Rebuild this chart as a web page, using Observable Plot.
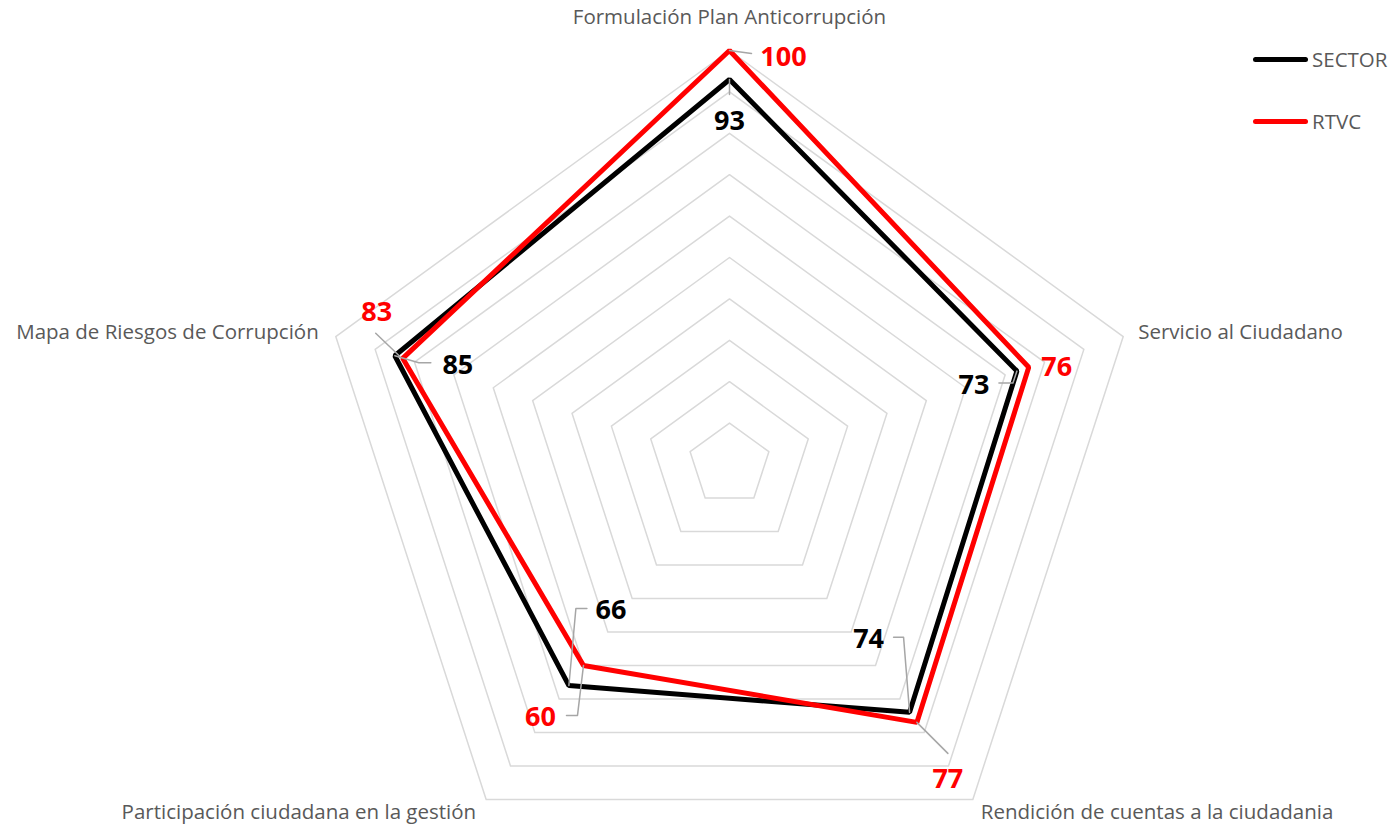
<!DOCTYPE html>
<html>
<head>
<meta charset="utf-8">
<script src="https://cdn.jsdelivr.net/npm/d3@7"></script>
<script src="https://cdn.jsdelivr.net/npm/@observablehq/plot@0.6"></script>
<style>
  html, body { margin: 0; padding: 0; background: #fff; }
  #wrap { position: relative; width: 1393px; height: 826px; }
  #legend { position: absolute; left: 1253px; top: 44px; font-family: "Open Sans", sans-serif; font-size: 20.5px; color: #595959; }
  .item { display: flex; align-items: center; height: 30px; margin-bottom: 32px; }
  .sw { width: 55px; height: 5px; border-radius: 3px; margin-right: 4px; }
</style>
</head>
<body>
<div id="wrap"><div id="legend"></div></div>
<script>
// ---- data ----
const categories = [
  "Formulación Plan Anticorrupción",
  "Servicio al Ciudadano",
  "Rendición de cuentas a la ciudadania",
  "Participación ciudadana en la gestión",
  "Mapa de Riesgos de Corrupción"
];
const seriesNames = ["SECTOR", "RTVC"];
const sectorValues = [93, 73, 74, 66, 85];
const rtvcValues = [100, 76, 77, 60, 83];
const ringLevels = [10, 20, 30, 40, 50, 60, 70, 80, 90, 100];

// ---- layout / style (not data) ----
const W = 1393, H = 826;
const CX = 729, CY = 464, PX_PER_UNIT = 4.14;
const colors = {SECTOR: "#000000", RTVC: "#ff0000"};
// data label offsets in pixels from the point, and leader polylines
const labelLayout = {
  SECTOR: [
    {off: [0, 42], leader: [[0, 0], [0, 15]]},
    {off: [-43, 14], leader: [[-18, 12], [-4, 12], [0, 0]]},
    {off: [-41, -73], leader: [[-16, -75], [-6, -75], [0, 0]]},
    {off: [42, -75], leader: [[18, -77], [7, -77], [0, 0]]},
    {off: [63, 10], leader: [[0, 0], [24, 7], [36, 7]]}
  ],
  RTVC: [
    {off: [54, 7], leader: [[0, 0], [22, 3]]},
    {off: [28, 0], leader: null},
    {off: [31, 57], leader: [[0, 0], [31, 31]]},
    {off: [-43, 52], leader: [[-17, 50], [-6, 50], [0, 0]]},
    {off: [-26, -46], leader: [[-3, -2], [-27, -25]]}
  ]
};
const axisLabelLayout = [
  {off: [0, -33], anchor: "middle"},
  {off: [15, -4], anchor: "start"},
  {off: [8, 13], anchor: "start"},
  {off: [-10, 13], anchor: "end"},
  {off: [-17, -4], anchor: "end"}
];

// ---- geometry helpers ----
const n = categories.length;
const ang = i => (-90 + 360 / n * i) * Math.PI / 180;
const px = (v, i) => v * Math.cos(ang(i));
const py = (v, i) => -v * Math.sin(ang(i));
const offX = d => d / PX_PER_UNIT;
const offY = d => -d / PX_PER_UNIT;

const rings = ringLevels.flatMap(l => categories.map((c, i) => ({level: l, x: px(l, i), y: py(l, i)})));

const seriesVals = {SECTOR: sectorValues, RTVC: rtvcValues};
const seriesPts = seriesNames.flatMap(s => seriesVals[s].map((v, i) => ({series: s, v, i, x: px(v, i), y: py(v, i)})));

const labels = seriesPts.map(d => {
  const L = labelLayout[d.series][d.i];
  return {...d, lx: d.x + offX(L.off[0]), ly: d.y + offY(L.off[1])};
});
const leaders = [];
seriesPts.forEach((d, k) => {
  const L = labelLayout[d.series][d.i];
  if (!L.leader) return;
  L.leader.forEach(p => leaders.push({id: k, x: d.x + offX(p[0]), y: d.y + offY(p[1])}));
});
const axisLabels = categories.map((c, i) => ({
  text: c,
  x: px(100, i) + offX(axisLabelLayout[i].off[0]),
  y: py(100, i) + offY(axisLabelLayout[i].off[1]),
  anchor: axisLabelLayout[i].anchor
}));

const textMarks = ["start", "middle", "end"].map(a =>
  Plot.text(axisLabels.filter(d => d.anchor === a), {
    x: "x", y: "y", text: "text", textAnchor: a, fill: "#595959",
    fontSize: 20.5, lineAnchor: "middle"
  }));

const chart = Plot.plot({
  width: W, height: H,
  margin: 0,
  x: {axis: null, domain: [-CX / PX_PER_UNIT, (W - CX) / PX_PER_UNIT], range: [0, W]},
  y: {axis: null, domain: [-(H - CY) / PX_PER_UNIT, CY / PX_PER_UNIT], range: [H, 0]},
  style: {fontFamily: "Open Sans, sans-serif", background: "#fff"},
  marks: [
    Plot.line(rings, {x: "x", y: "y", z: "level", curve: "linear-closed", stroke: "#d9d9d9", strokeWidth: 1.5}),
    ...seriesNames.map(s => Plot.line(seriesPts.filter(d => d.series === s), {
      x: "x", y: "y", curve: "linear-closed", stroke: colors[s], strokeWidth: 5, strokeLinejoin: "miter"
    })),
    Plot.line(leaders, {x: "x", y: "y", z: "id", stroke: "#a6a6a6", strokeWidth: 1.5}),
    Plot.text(labels, {
      x: "lx", y: "ly", text: d => String(d.v), fill: d => colors[d.series],
      fontSize: 27, fontWeight: "bold", lineAnchor: "middle"
    }),
    ...textMarks
  ]
});
document.getElementById("wrap").prepend(chart);

// legend
const lg = document.getElementById("legend");
seriesNames.forEach(s => {
  const it = document.createElement("div");
  it.className = "item";
  const sw = document.createElement("div");
  sw.className = "sw";
  sw.style.background = colors[s];
  const t = document.createElement("span");
  t.textContent = s;
  it.append(sw, t);
  lg.append(it);
});
</script>
</body>
</html>
